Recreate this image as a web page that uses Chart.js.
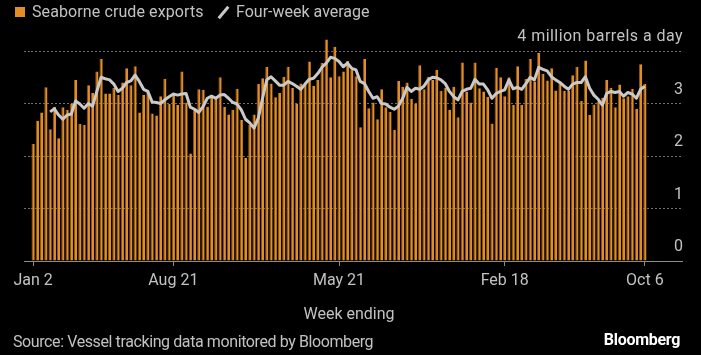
<!DOCTYPE html>
<html><head><meta charset="utf-8">
<script src="https://cdn.jsdelivr.net/npm/chart.js@4"></script>
<style>
html,body{margin:0;padding:0;background:#000;}
#wrap{position:relative;width:701px;height:355px;background:#000;overflow:hidden;font-family:Roboto,"Open Sans",sans-serif;}
#c{position:absolute;left:0;top:0;}
.t{position:absolute;white-space:nowrap;color:#c2c2c2;font-size:16px;line-height:20px;}
</style></head><body>
<div id="wrap">
<canvas id="c" width="701" height="355"></canvas>
<div style="position:absolute;left:15px;top:7px;width:10px;height:10px;background:#e38e25;"></div>
<div class="t" style="left:32px;top:2px;letter-spacing:0.1px;">Seaborne crude exports</div>
<div style="position:absolute;left:222px;top:5px;width:3px;height:15px;background:#c8c8c8;transform:rotate(40deg);"></div>
<div class="t" style="left:236px;top:2px;">Four-week average</div>
<div class="t" style="right:18px;top:26px;letter-spacing:0.45px;">4 million barrels a day</div>
<div class="t" style="left:0;width:698px;text-align:center;top:304px;">Week ending</div>
<div class="t" style="left:13px;top:332px;letter-spacing:-0.4px;">Source: Vessel tracking data monitored by Bloomberg</div>
<div class="t" style="right:21px;top:330px;color:#fff;font-weight:bold;letter-spacing:-0.3px;">Bloomberg</div>
</div>
<script>
// Weekly seaborne crude exports, million barrels a day (week ending Sundays from Jan 2 2022)
const firstWeek = '2022-01-02';
const exportsMbd = [
2.23,2.67,2.83,3.31,2.51,2.94,2.34,2.93,2.88,3.00,3.45,2.61,2.59,3.35,3.20,3.61,3.85,3.19,3.19,3.30,
3.16,3.40,3.67,3.35,3.71,2.83,3.16,3.23,2.81,2.77,3.14,3.47,2.99,3.16,2.97,3.61,3.02,2.05,2.89,3.27,
3.26,2.94,3.13,3.10,3.50,2.94,2.79,2.88,3.28,2.69,1.96,2.59,2.79,3.37,3.48,3.70,3.38,3.12,3.20,3.51,
3.70,3.30,3.00,3.38,3.37,3.80,3.34,3.45,3.77,4.22,3.50,4.08,3.52,3.61,3.81,3.65,3.52,2.55,3.85,2.91,
3.02,2.70,3.27,2.93,2.84,2.50,3.43,3.32,3.40,3.09,3.00,3.73,3.27,3.51,3.45,3.64,3.24,3.30,2.88,3.32,
2.74,3.78,3.23,3.02,3.78,3.29,3.23,3.13,2.62,3.68,3.50,3.14,3.50,2.97,3.71,2.97,3.47,3.85,3.42,3.96,
3.56,3.44,3.67,3.25,3.40,3.24,3.24,3.54,3.70,3.05,3.82,2.78,2.98,3.04,3.11,3.45,3.30,2.93,3.36,3.10,
3.14,3.28,2.90,3.75,3.37
];
const fourWeekAvg = [
null,null,null,null,2.84,2.90,2.78,2.70,2.78,2.80,3.05,2.99,2.91,3.00,2.95,3.23,3.50,3.47,3.45,3.37,
3.23,3.29,3.40,3.43,3.54,3.42,3.27,3.23,3.03,3.02,3.00,3.07,3.13,3.18,3.16,3.18,3.19,2.93,2.89,2.83,
2.94,3.10,3.14,3.10,3.16,3.17,3.10,3.02,2.99,2.88,2.70,2.63,2.53,2.72,3.10,3.45,3.51,3.43,3.35,3.35,
3.42,3.38,3.33,3.27,3.37,3.46,3.48,3.57,3.69,3.77,3.88,3.86,3.80,3.70,3.77,3.67,3.64,3.42,3.38,3.23,
3.10,3.13,3.00,2.99,2.93,2.89,2.95,3.10,3.31,3.23,3.29,3.27,3.33,3.45,3.50,3.49,3.45,3.38,3.23,3.13,
3.07,3.23,3.27,3.29,3.46,3.37,3.37,3.26,3.10,3.19,3.23,3.26,3.45,3.28,3.31,3.27,3.38,3.50,3.45,3.69,
3.65,3.62,3.51,3.45,3.40,3.33,3.27,3.37,3.40,3.40,3.51,3.29,3.16,3.08,2.97,3.19,3.23,3.21,3.23,3.14,
3.21,3.18,3.10,3.27,3.33
];
const xTickDates = ['2022-01-02','2022-08-21','2023-05-21','2024-02-18','2024-10-06'];
const xTickLabels = ['Jan 2','Aug 21','May 21','Feb 18','Oct 6'];
const yTicks = [0,1,2,3,4];
const yTickLabels = ['0','1','2','3',''];

// categories: consecutive week-ending dates
const weekEnding = [];
(function(){
  const t0 = Date.parse(firstWeek + 'T00:00:00Z');
  for (let i = 0; i < exportsMbd.length; i++) {
    weekEnding.push(new Date(t0 + i * 7 * 86400000).toISOString().slice(0, 10));
  }
})();

const FONT = {family: 'Roboto, "Open Sans", sans-serif', size: 16};
const TXT = '#c2c2c2';
const GRID = '#6f6f6f';

const baseline = {
  id: 'baseline',
  afterDatasetsDraw(chart) {
    const {ctx, chartArea, scales} = chart;
    const y = Math.round(scales.y.getPixelForValue(0)) + 0.5;
    ctx.save();
    ctx.strokeStyle = '#8c8c8c';
    ctx.lineWidth = 1;
    ctx.beginPath();
    ctx.moveTo(chartArea.left - 7, y);
    ctx.lineTo(chartArea.right + 36, y);
    ctx.stroke();
    ctx.restore();
  }
};

new Chart(document.getElementById('c'), {
  data: {
    labels: weekEnding,
    datasets: [
      {type: 'line', label: 'Four-week average', data: fourWeekAvg, borderColor: '#cacaca',
       borderWidth: 3, pointRadius: 0, tension: 0, borderJoinStyle: 'round', order: 0, yAxisID: 'y'},
      {type: 'bar', label: 'Seaborne crude exports', data: exportsMbd, backgroundColor: '#e38e25',
       borderColor: '#8a5516', borderWidth: {left: 1, right: 0, top: 0, bottom: 0}, borderSkipped: false,
       barPercentage: 0.76, categoryPercentage: 1, order: 1, yAxisID: 'y'}
    ]
  },
  options: {
    responsive: false,
    animation: false,
    layout: {padding: {left: 24, right: 18, top: 30, bottom: 30}},
    plugins: {legend: {display: false}, tooltip: {enabled: false}},
    scales: {
      x: {
        type: 'category',
        offset: true,
        afterBuildTicks: s => { s.ticks = s.ticks.filter(t => xTickDates.includes(weekEnding[t.value])); },
        afterFit: s => { s.height = 64; },
        grid: {offset: false, drawOnChartArea: false, drawTicks: true, tickLength: 5, tickColor: '#8c8c8c'},
        border: {display: false},
        ticks: {autoSkip: false, maxRotation: 0, color: TXT, font: FONT, padding: 5,
          callback: v => xTickLabels[xTickDates.indexOf(weekEnding[v])]},
        title: {display: false}
      },
      y: {
        position: 'right',
        min: 0, max: 4.4,
        afterBuildTicks: s => { s.ticks = yTicks.map(v => ({value: v})); },
        afterFit: s => { s.width = 36; },
        grid: {
          color: c => (c.tick && c.tick.value === 0) ? 'rgba(0,0,0,0)' : GRID,
          tickColor: c => (c.tick && c.tick.value === 0) ? 'rgba(0,0,0,0)' : GRID,
          tickLength: 36, drawTicks: true, tickBorderDash: [2, 2], lineWidth: 1
        },
        border: {display: false, dash: [2, 2]},
        ticks: {crossAlign: 'far', labelOffset: -14, padding: 0, color: TXT, font: FONT,
          callback: v => yTickLabels[yTicks.indexOf(v)]}
      },
      y2: {
        position: 'left',
        min: 0, max: 4.4,
        afterBuildTicks: s => { s.ticks = yTicks.map(v => ({value: v})); },
        afterFit: s => { s.width = 7; },
        grid: {drawOnChartArea: false, drawTicks: true, tickLength: 7, tickBorderDash: [2, 2],
          tickColor: c => (c.tick && c.tick.value === 0) ? 'rgba(0,0,0,0)' : GRID},
        border: {display: false},
        ticks: {display: false}
      }
    }
  },
  plugins: [baseline]
});
</script>
</body></html>
